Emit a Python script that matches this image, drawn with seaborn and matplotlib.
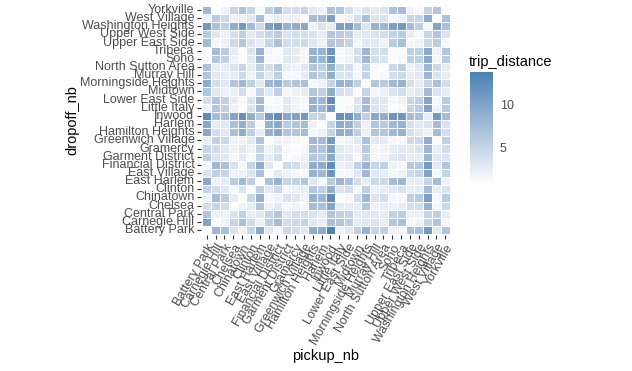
import matplotlib
matplotlib.use("Agg")
import matplotlib.pyplot as plt
import seaborn as sns
import pandas as pd
import numpy as np
from matplotlib.colors import ListedColormap, to_rgb

neighborhoods = ["Battery Park", "Carnegie Hill", "Central Park", "Chelsea", "Chinatown",
                 "Clinton", "East Harlem", "East Village", "Financial District",
                 "Garment District", "Gramercy", "Greenwich Village", "Hamilton Heights",
                 "Harlem", "Inwood", "Little Italy", "Lower East Side", "Midtown",
                 "Morningside Heights", "Murray Hill", "North Sutton Area", "Soho",
                 "Tribeca", "Upper East Side", "Upper West Side", "Washington Heights",
                 "West Village", "Yorkville"]

# trip_distance by dropoff neighbourhood (one list per dropoff, values per pickup)
battery_park = [0.7, 8, 7, 3.5, 2, 5, 9.5, 3, 1.5, 4.5, 4, 3, 9, 9, 13.8, 2, 3, 5.5, 8.5, 5, 5.5, 2, 1.5, 7, 7, 11, 3, 6.5]
carnegie_hill = [10, 1, 2, 5, 7, 4.5, 2, 5.5, 7.5, 4, 4.5, 5, 3, 2.5, 7, 6.5, 5.5, 2.5, 3, 3.5, 2.5, 6.5, 7, 1.5, 2, 5, 6.5, 1.5]
central_park = [6.5, 2, 2, 3.5, 5.5, 2.5, 3, 5, 6.5, 3, 4, 4, 3.5, 2.5, 6.5, 5.5, 5, 2.5, 3, 3, 2.5, 5.5, 6, 2, 2, 5, 5.5, 2.5]
chelsea = [4, 5, 4, 1, 2, 2.5, 6.5, 2, 3, 1.5, 2, 1.5, 7.5, 7, 10, 2.5, 2.5, 2.5, 6.5, 2, 2.5, 2, 2.5, 4, 4, 8.5, 1.5, 4.5]
chinatown = [2, 7.5, 6, 2.5, 1, 4.5, 8.5, 1.5, 2, 3.5, 3, 2, 8.5, 8, 12.5, 1, 1.5, 4, 8, 3.5, 4, 1.5, 1.5, 5.5, 6, 10.5, 1.5, 6]
clinton = [5, 4, 3, 1.5, 3.5, 1, 5.5, 3, 4.5, 1.5, 2, 2.5, 6.5, 5.5, 9, 3.5, 4, 1.5, 5.5, 2, 2.5, 3, 3.5, 2.5, 2.5, 7.5, 2.5, 3.5]
east_harlem = [9.5, 2, 2.5, 6, 8, 5.5, 1, 7, 8.5, 5, 5.5, 6.5, 3, 1.5, 6, 8, 7, 4, 2.5, 4.5, 4.5, 7.5, 8, 2.5, 2.5, 5, 7.5, 2]
east_village = [3.5, 5.5, 5, 2, 2, 3.5, 7, 1, 3, 2, 1.5, 1.5, 8.5, 8, 11.5, 1.5, 1.5, 3, 8, 3, 2.5, 1.5, 2, 4.5, 5, 10, 1.5, 5]
financial_district = [1.5, 8, 7, 3.5, 1.5, 5, 9, 3, 1, 4.5, 4, 2.5, 9, 9, 12.5, 2, 2.5, 5.5, 8.5, 5, 5.5, 2, 1.5, 6.5, 6.5, 11, 3, 6.5]
garment_district = [5.5, 3.5, 3, 1.5, 3, 1.5, 5, 2.5, 4, 1, 1.5, 2, 6.5, 6, 9.5, 3, 3, 1.5, 5.5, 1.5, 2, 3, 3.5, 2.5, 2.5, 8, 3, 3.5]
gramercy = [5, 4, 3, 2, 3, 2, 5, 2, 3.5, 1.5, 1, 1.5, 7, 6.5, 10, 3, 2.5, 2, 6, 1.5, 2, 2.5, 3, 3, 3.5, 8, 2.5, 4]
greenwich_village = [2.5, 5.5, 4.5, 2, 2, 3, 6.5, 1, 2, 2, 1.5, 1, 8, 7.5, 11, 1.5, 2, 3, 7, 3, 2.5, 1.5, 1.5, 4.5, 4.5, 9, 1, 5.5]
hamilton_heights = [9.5, 4, 3, 7, 9, 5.5, 2.5, 8.5, 9.5, 6.5, 6.5, 7.5, 1.5, 2, 5, 9, 8.5, 5.5, 2, 6.5, 6.5, 8, 8.5, 4, 3, 2, 7.5, 4]
harlem = [9.5, 2.5, 3, 7, 9, 6, 1.5, 8.5, 9.5, 6, 6.5, 7.5, 2, 1, 5, 9, 8.5, 5.5, 2, 6.5, 6, 8, 8.5, 4, 3, 3.5, 7.5, 3.5]
inwood = [12.5, 7.5, 7, 10, 12, 9, 6, 11, 12.5, 9.5, 10, 11, 5, 5, 1, 12, 11.5, 9, 5.5, 9.5, 9, 11.5, 11.5, 7.5, 7, 2.5, 11, 7.5]
little_italy = [2, 6.5, 5.5, 2, 1, 3.5, 7.5, 1.5, 1.5, 3, 2, 1.5, 8.5, 8, 11, 1, 1.5, 3.5, 7.5, 3.5, 3, 1, 1.5, 5, 6, 10, 2, 6]
lower_east_side = [4, 6.5, 5.5, 2.5, 1.5, 3.5, 7.5, 1, 1.5, 3, 2, 1.5, 8.5, 8, 12.5, 1, 1, 3.5, 7.5, 3.5, 3, 1.5, 2, 5, 5.5, 10, 1.5, 6]
midtown = [6.5, 3, 2, 2, 4, 1.5, 5, 3, 5.5, 1.5, 2, 2.5, 6.5, 5.5, 9, 4, 3.5, 1, 5, 1.5, 2, 3.5, 4, 2.5, 3, 7.5, 3.5, 2.5]
morningside_heights = [9, 4, 3, 6.5, 8, 5.5, 3, 8, 8.5, 6, 6.5, 7, 1.5, 2, 5, 8.5, 8, 5.5, 1, 6.5, 6, 8, 8.5, 4, 2.5, 5, 7, 4]
murray_hill = [6.5, 3, 2.5, 2.5, 4.5, 2, 5, 3, 5.5, 1.5, 1.5, 2.5, 6.5, 5.5, 9, 3.5, 3.5, 1.5, 5, 1, 1.5, 4, 4.5, 2.5, 3, 8, 3.5, 2.5]
north_sutton_area = [7, 2.5, 2.5, 3.5, 5, 2.5, 5.5, 4, 6, 2.5, 2, 3, 6.5, 5.5, 9, 4, 4, 1.5, 5, 1.5, 1, 4.5, 5.5, 2, 3, 8, 4.5, 2.5]
soho = [1.5, 6.5, 5.5, 2, 1, 3, 8, 1.5, 1.5, 3, 2.5, 1.5, 8.5, 8, 11.5, 1.5, 2, 4, 8, 4, 3.5, 1, 1.5, 5.5, 5.5, 9.5, 1.5, 6]
tribeca = [1, 7.5, 6, 2.5, 1, 3.5, 8.5, 1.5, 1, 3, 2.5, 1.5, 8.5, 8.5, 11.5, 1.5, 2, 4, 8, 4, 4, 1, 1, 5.5, 5.5, 9.5, 2, 6.5]
upper_east_side = [7.5, 1.5, 2, 4.5, 6.5, 3.5, 2.5, 5, 7, 4, 4, 4.5, 3, 2, 6.5, 6, 5, 1.5, 3, 3, 2, 6, 7, 1.5, 2, 4.5, 6, 1.5]
upper_west_side = [6, 3, 2, 4, 5.5, 3, 4, 5, 6, 3.5, 4, 4, 3.5, 2.5, 6.5, 6, 5.5, 2.5, 3, 3.5, 4, 5.5, 6, 2.5, 1.5, 5, 6.5, 3.5]
washington_heights = [11, 7, 5.5, 9, 11, 7.5, 4.5, 10.5, 11.5, 8.5, 9, 9.5, 2, 3.5, 2.5, 10.5, 10.5, 7.5, 3.5, 8.5, 8, 10.5, 11, 7.5, 5.5, 1.5, 10, 7]
west_village = [2, 6, 4.5, 2, 2, 3, 7, 1.5, 2.5, 2, 2, 1.2, 7.5, 7.5, 10.5, 1.5, 2, 4, 7, 3.5, 3.5, 1.5, 2, 5, 5, 9, 1, 7]
yorkville = [8, 1, 2, 5, 7, 5, 1.5, 5.5, 7.5, 4, 4, 5, 3, 2, 7, 6.5, 4, 2, 3.5, 3, 3.5, 7, 7.5, 2, 1.5, 5, 6.5, 1]

dropoff_rows = [battery_park, carnegie_hill, central_park, chelsea, chinatown, clinton,
                east_harlem, east_village, financial_district, garment_district, gramercy,
                greenwich_village, hamilton_heights, harlem, inwood, little_italy,
                lower_east_side, midtown, morningside_heights, murray_hill,
                north_sutton_area, soho, tribeca, upper_east_side, upper_west_side,
                washington_heights, west_village, yorkville]

df = pd.DataFrame(dropoff_rows, index=neighborhoods, columns=neighborhoods)
df = df.iloc[::-1]  # Yorkville on top, Battery Park at bottom


# ---- white -> steelblue gradient interpolated in CIE Lab (like ggplot2) ----
_M = np.array([[0.4124, 0.3576, 0.1805],
               [0.2126, 0.7152, 0.0722],
               [0.0193, 0.1192, 0.9505]])
_WHITE = _M @ np.ones(3)


def _to_lab(rgb):
    c = np.asarray(rgb, float)
    lin = np.where(c <= 0.04045, c / 12.92, ((c + 0.055) / 1.055) ** 2.4)
    xyz = (_M @ lin) / _WHITE
    f = np.where(xyz > 0.008856, np.cbrt(xyz), 7.787 * xyz + 16 / 116)
    return np.array([116 * f[1] - 16, 500 * (f[0] - f[1]), 200 * (f[1] - f[2])])


def _from_lab(lab):
    L, a, b = lab
    fy = (L + 16) / 116
    fx = fy + a / 500
    fz = fy - b / 200
    f = np.array([fx, fy, fz])
    xyz = np.where(f ** 3 > 0.008856, f ** 3, (f - 16 / 116) / 7.787) * _WHITE
    lin = np.linalg.solve(_M, xyz)
    lin = np.clip(lin, 0, 1)
    c = np.where(lin <= 0.0031308, 12.92 * lin, 1.055 * lin ** (1 / 2.4) - 0.055)
    return np.clip(c, 0, 1)


_lo, _hi = _to_lab(to_rgb("white")), _to_lab(to_rgb("steelblue"))
cmap = ListedColormap([_from_lab(_lo + (_hi - _lo) * t) for t in np.linspace(0, 1, 256)])

sns.set_style("white")
plt.rcParams["font.family"] = ["Liberation Sans", "DejaVu Sans"]

fig = plt.figure(figsize=(6.32, 3.71), dpi=100)
ax = fig.add_axes([0.3187, 0.3668, 0.3943, 0.6195])
cax = fig.add_axes([0.7437, 0.5013, 0.0364, 0.3046])

vmin = min(min(r) for r in dropoff_rows)
vmax = max(max(r) for r in dropoff_rows)

sns.heatmap(df, ax=ax, cmap=cmap, vmin=vmin, vmax=vmax, linewidths=0.5,
            linecolor="white", cbar_ax=cax, xticklabels=True, yticklabels=True)

ax.set_axisbelow(True)
ax.grid(True, color="#EBEBEB", linewidth=0.8)
ax.set_xlim(-0.1, len(neighborhoods) + 0.1)
ax.set_ylim(len(neighborhoods) + 0.1, -0.1)
for s in ax.spines.values():
    s.set_visible(False)

ax.set_xlabel("")
ax.set_ylabel("")
ax.set_xticklabels(df.columns, rotation=60, ha="right", rotation_mode="anchor",
                   fontsize=9, color="#4D4D4D")
ax.set_yticklabels(df.index, rotation=0, fontsize=9, color="#4D4D4D")
ax.tick_params(axis="both", length=3, width=0.8, color="#333333", pad=2,
               bottom=True, left=True)

fig.text(326 / 632, 1 - 356 / 371, "pickup_nb", ha="center", va="center",
         fontsize=10.5, color="black")
fig.text(72 / 632, 1 - 120 / 371, "dropoff_nb", ha="center", va="center",
         rotation=90, fontsize=10.5, color="black")
fig.text(469 / 632, 1 - 62 / 371, "trip_distance", ha="left", va="center",
         fontsize=10.5, color="black")

cbar = ax.collections[0].colorbar
cbar.outline.set_visible(False)
cbar.set_ticks([5, 10])
cbar.minorticks_off()
cax.tick_params(axis="y", direction="in", left=True, right=True, color="white",
                length=3, width=0.8, labelsize=9, labelcolor="#4D4D4D", pad=5)

fig.savefig("out.png", dpi=100)
